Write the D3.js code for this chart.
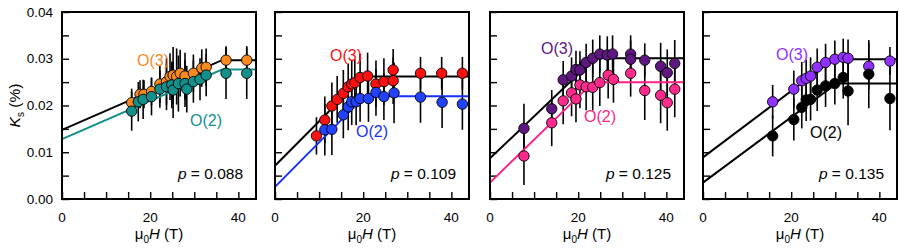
<!DOCTYPE html>
<html>
<head>
<meta charset="utf-8">
<script src="https://cdn.jsdelivr.net/npm/d3@7"></script>
<style>
  html, body { margin: 0; padding: 0; background: #fff; }
  svg { display: block; font-family: "Liberation Sans", Arial, sans-serif; }
</style>
</head>
<body>
<div id="chart"></div>
<script>
// field values (T) and Knight shift K_s (%), one set per panel
const p1_o3_H = [15.8, 17.7, 18.6, 20.3, 22.2, 23.7, 24.5, 25.2, 26.0, 26.8, 27.9, 29.8, 31.7, 32.7, 37.2, 41.9];
const p1_o3_K = [0.0206, 0.0224, 0.0224, 0.0230, 0.0246, 0.0251, 0.0262, 0.0265, 0.0262, 0.0269, 0.0263, 0.0269, 0.0280, 0.0282, 0.0297, 0.0297];
const p1_o3_E = [0.003, 0.003, 0.003, 0.003, 0.004, 0.005, 0.005, 0.006, 0.006, 0.005, 0.005, 0.004, 0.004, 0.004, 0.003, 0.003];
const p1_o2_H = [15.8, 17.3, 18.4, 20.3, 22.2, 23.7, 24.9, 25.2, 26.4, 27.9, 28.3, 29.8, 31.3, 32.7, 37.2, 41.9];
const p1_o2_K = [0.0188, 0.0208, 0.0213, 0.0219, 0.0235, 0.0240, 0.0244, 0.0233, 0.0247, 0.0247, 0.0235, 0.0251, 0.0256, 0.0265, 0.0269, 0.0269];
const p1_o2_E = [0.0042, 0.0042, 0.0042, 0.004, 0.004, 0.005, 0.005, 0.006, 0.006, 0.005, 0.005, 0.0045, 0.0045, 0.0045, 0.0055, 0.0055];

const p2_o3_H = [9.4, 11.3, 12.9, 14.1, 15.5, 16.6, 17.4, 18.1, 19.3, 21.0, 22.9, 24.7, 26.8, 26.8, 33.0, 37.8, 42.5];
const p2_o3_K = [0.0135, 0.0169, 0.0199, 0.0213, 0.0226, 0.0240, 0.0246, 0.0249, 0.0260, 0.0263, 0.0246, 0.0251, 0.0253, 0.0276, 0.0269, 0.0269, 0.0269];
const p2_o3_E = [0.004, 0.005, 0.005, 0.005, 0.005, 0.005, 0.005, 0.005, 0.005, 0.005, 0.005, 0.005, 0.005, 0.0045, 0.0035, 0.0035, 0.0035];
const p2_o2_H = [11.3, 12.9, 15.5, 16.6, 17.4, 18.4, 19.3, 21.2, 22.9, 24.7, 27.0, 33.0, 37.9, 42.5];
const p2_o2_K = [0.0148, 0.0149, 0.0180, 0.0197, 0.0208, 0.0208, 0.0215, 0.0215, 0.0228, 0.0219, 0.0227, 0.0218, 0.0207, 0.0203];
const p2_o2_E = [0.0055, 0.0055, 0.005, 0.005, 0.005, 0.005, 0.005, 0.005, 0.005, 0.005, 0.0065, 0.0055, 0.0055, 0.0055];

const p3_o3_H = [7.7, 14.0, 16.6, 18.5, 19.5, 20.4, 21.8, 23.3, 24.9, 26.6, 27.8, 31.9, 31.9, 35.1, 38.7, 40.2, 41.9];
const p3_o3_K = [0.0151, 0.0193, 0.0255, 0.0263, 0.0277, 0.0276, 0.0292, 0.0301, 0.0310, 0.0308, 0.0310, 0.0310, 0.0299, 0.0297, 0.0284, 0.0270, 0.0290];
const p3_o3_E = [0.0053, 0.004, 0.004, 0.004, 0.004, 0.004, 0.004, 0.004, 0.004, 0.004, 0.004, 0.004, 0.004, 0.0036, 0.005, 0.005, 0.005];
const p3_o2_H = [7.7, 14.0, 16.6, 18.5, 19.5, 20.4, 21.8, 23.3, 24.9, 26.8, 28.0, 31.9, 35.1, 38.7, 40.2, 41.9];
const p3_o2_K = [0.0092, 0.0163, 0.0210, 0.0227, 0.0214, 0.0244, 0.0240, 0.0239, 0.0249, 0.0265, 0.0256, 0.0269, 0.0232, 0.0222, 0.0206, 0.0235];
const p3_o2_E = [0.0062, 0.005, 0.005, 0.005, 0.005, 0.005, 0.005, 0.005, 0.005, 0.005, 0.005, 0.005, 0.0063, 0.006, 0.006, 0.006];

const p4_o3_H = [15.8, 20.6, 22.4, 23.4, 24.4, 25.9, 27.8, 29.9, 31.8, 32.9, 37.6, 42.4];
const p4_o3_K = [0.0208, 0.0235, 0.0253, 0.0258, 0.0263, 0.0282, 0.0292, 0.0299, 0.0303, 0.0301, 0.0284, 0.0295];
const p4_o3_E = [0.0036, 0.004, 0.004, 0.004, 0.004, 0.004, 0.004, 0.004, 0.004, 0.004, 0.005, 0.003];
const p4_o2_H = [15.8, 20.6, 22.4, 23.4, 24.4, 25.9, 27.8, 29.9, 31.8, 32.9, 37.6, 42.4];
const p4_o2_K = [0.0135, 0.0170, 0.0196, 0.0212, 0.0213, 0.0233, 0.0242, 0.0247, 0.0260, 0.0231, 0.0267, 0.0215];
const p4_o2_E = [0.0044, 0.0045, 0.0045, 0.0045, 0.0045, 0.0045, 0.0045, 0.0045, 0.0045, 0.0073, 0.0073, 0.0068];

// fitted lines: [H, K] vertices (ramp then plateau)
const p1_fit_o3 = [[0, 0.0148], [36.3, 0.0297], [44, 0.0297]];
const p1_fit_o2 = [[0, 0.0128], [36.3, 0.0277], [44, 0.0277]];
const p2_fit_o3 = [[0, 0.0071], [20.1, 0.0262], [44, 0.0262]];
const p2_fit_o2 = [[0, 0.0026], [20.4, 0.0220], [44, 0.0220]];
const p3_fit_o3 = [[0, 0.0087], [23.8, 0.0301], [44, 0.0301]];
const p3_fit_o2 = [[0, 0.0035], [23.4, 0.0250], [44, 0.0250]];
const p4_fit_o3 = [[0, 0.0089], [29.6, 0.0299], [44, 0.0299]];
const p4_fit_o2 = [[0, 0.0035], [30.3, 0.0247], [44, 0.0247]];

const dopings = ["0.088", "0.109", "0.125", "0.135"];
const xTickLabels = [0, 20, 40];
const yTickLabels = [0.00, 0.01, 0.02, 0.03, 0.04];

const W = 900, H = 249;
const plotTop = 12, plotBottom = 199, pw = 194;
const lefts = [62, 275, 490, 703];

const zip = (h, k, e) => h.map((v, i) => ({h: v, k: k[i], e: e[i]}));

const panels = [
  {o3: zip(p1_o3_H, p1_o3_K, p1_o3_E), o2: zip(p1_o2_H, p1_o2_K, p1_o2_E), fit3: p1_fit_o3, fit2: p1_fit_o2,
   c3: "#f98a1e", c2: "#12908b", l3: "#000", l2: "#12908b",
   lab3: [153, 66], lab2: [206, 126]},
  {o3: zip(p2_o3_H, p2_o3_K, p2_o3_E), o2: zip(p2_o2_H, p2_o2_K, p2_o2_E), fit3: p2_fit_o3, fit2: p2_fit_o2,
   c3: "#ff1010", c2: "#2142ff", l3: "#000", l2: "#1530ff",
   lab3: [346, 61], lab2: [372, 137]},
  {o3: zip(p3_o3_H, p3_o3_K, p3_o3_E), o2: zip(p3_o2_H, p3_o2_K, p3_o2_E), fit3: p3_fit_o3, fit2: p3_fit_o2,
   c3: "#5e1681", c2: "#ff2a8c", l3: "#000", l2: "#ff1f86",
   lab3: [557, 54], lab2: [600, 122]},
  {o3: zip(p4_o3_H, p4_o3_K, p4_o3_E), o2: zip(p4_o2_H, p4_o2_K, p4_o2_E), fit3: p4_fit_o3, fit2: p4_fit_o2,
   c3: "#9130ff", c2: "#000", l3: "#000", l2: "#000",
   lab3: [792, 60], lab2: [826, 138]}
];

const svg = d3.select("#chart").append("svg")
  .attr("width", W).attr("height", H)
  .attr("viewBox", [0, 0, W, H]);

const y = d3.scaleLinear().domain([0, 0.04]).range([plotBottom, plotTop]);

panels.forEach((p, i) => {
  const x0 = lefts[i];
  const x = d3.scaleLinear().domain([0, 44]).range([x0, x0 + pw]);
  const g = svg.append("g");

  // inward ticks
  const xAxis = d3.axisTop(x).tickValues(d3.range(0, 45, 5)).tickSize(7).tickFormat("");
  g.append("g").attr("transform", `translate(0,${plotBottom})`).call(xAxis)
    .call(s => s.select(".domain").remove())
    .selectAll("line").attr("stroke", "#000").attr("stroke-width", 1.4);
  const yAxis = d3.axisRight(y).tickValues(d3.range(0, 0.0401, 0.005)).tickSize(7).tickFormat("");
  g.append("g").attr("transform", `translate(${x0},0)`).call(yAxis)
    .call(s => s.select(".domain").remove())
    .selectAll("line").attr("stroke", "#000").attr("stroke-width", 1.4);

  // tick labels
  g.selectAll(".xl").data(xTickLabels).join("text")
    .attr("x", d => x(d)).attr("y", 222)
    .attr("text-anchor", "middle").attr("font-size", 13.5).text(d => d);
  if (i === 0) {
    g.selectAll(".yl").data(yTickLabels).join("text")
      .attr("x", 53).attr("y", d => y(d)).attr("dy", "0.35em")
      .attr("text-anchor", "end").attr("font-size", 13.5).text(d => d3.format(".2f")(d));
  }

  // error bars
  const bars = p.o3.concat(p.o2);
  g.selectAll(".eb").data(bars).join("line")
    .attr("x1", d => x(d.h)).attr("x2", d => x(d.h))
    .attr("y1", d => y(d.k - d.e)).attr("y2", d => y(d.k + d.e))
    .attr("stroke", "#000").attr("stroke-width", 1.6);

  // fit lines
  const line = d3.line().x(d => x(d[0])).y(d => y(d[1]));
  g.append("path").attr("d", line(p.fit3)).attr("fill", "none").attr("stroke", p.l3).attr("stroke-width", 2);
  g.append("path").attr("d", line(p.fit2)).attr("fill", "none").attr("stroke", p.l2).attr("stroke-width", 2);

  // points
  g.selectAll(".p3").data(p.o3).join("circle")
    .attr("cx", d => x(d.h)).attr("cy", d => y(d.k)).attr("r", 5.2)
    .attr("fill", p.c3).attr("stroke", "#000").attr("stroke-width", 0.9);
  g.selectAll(".p2").data(p.o2).join("circle")
    .attr("cx", d => x(d.h)).attr("cy", d => y(d.k)).attr("r", 5.2)
    .attr("fill", p.c2).attr("stroke", "#000").attr("stroke-width", 0.9);

  // frame
  g.append("rect").attr("x", x0).attr("y", plotTop).attr("width", pw).attr("height", plotBottom - plotTop)
    .attr("fill", "none").attr("stroke", "#000").attr("stroke-width", 2);

  // labels
  g.append("text").attr("x", p.lab3[0]).attr("y", p.lab3[1]).attr("text-anchor", "middle")
    .attr("font-size", 16).attr("fill", p.c3).text("O(3)");
  g.append("text").attr("x", p.lab2[0]).attr("y", p.lab2[1]).attr("text-anchor", "middle")
    .attr("font-size", 16).attr("fill", p.c2 === "#000" ? "#000" : p.l2).text("O(2)");

  const pt = g.append("text").attr("x", x0 + pw - 13).attr("y", 179)
    .attr("text-anchor", "end").attr("font-size", 15.5);
  pt.append("tspan").attr("font-style", "italic").text("p");
  pt.append("tspan").text(" = " + dopings[i]);

  const xt = g.append("text").attr("x", x0 + pw / 2).attr("y", 239)
    .attr("text-anchor", "middle").attr("font-size", 15);
  xt.append("tspan").text("\u03bc");
  xt.append("tspan").attr("font-size", 10).attr("dy", 4).text("0");
  xt.append("tspan").attr("font-style", "italic").attr("dy", -4).text("H");
  xt.append("tspan").text(" (T)");
});

// y axis title
const yt = svg.append("text").attr("transform", `translate(20,${(plotTop + plotBottom) / 2}) rotate(-90)`)
  .attr("text-anchor", "middle").attr("font-size", 15.5);
yt.append("tspan").attr("font-style", "italic").text("K");
yt.append("tspan").attr("font-size", 10).attr("dy", 4).text("s");
yt.append("tspan").attr("dy", -4).text(" (%)");
</script>
</body>
</html>
